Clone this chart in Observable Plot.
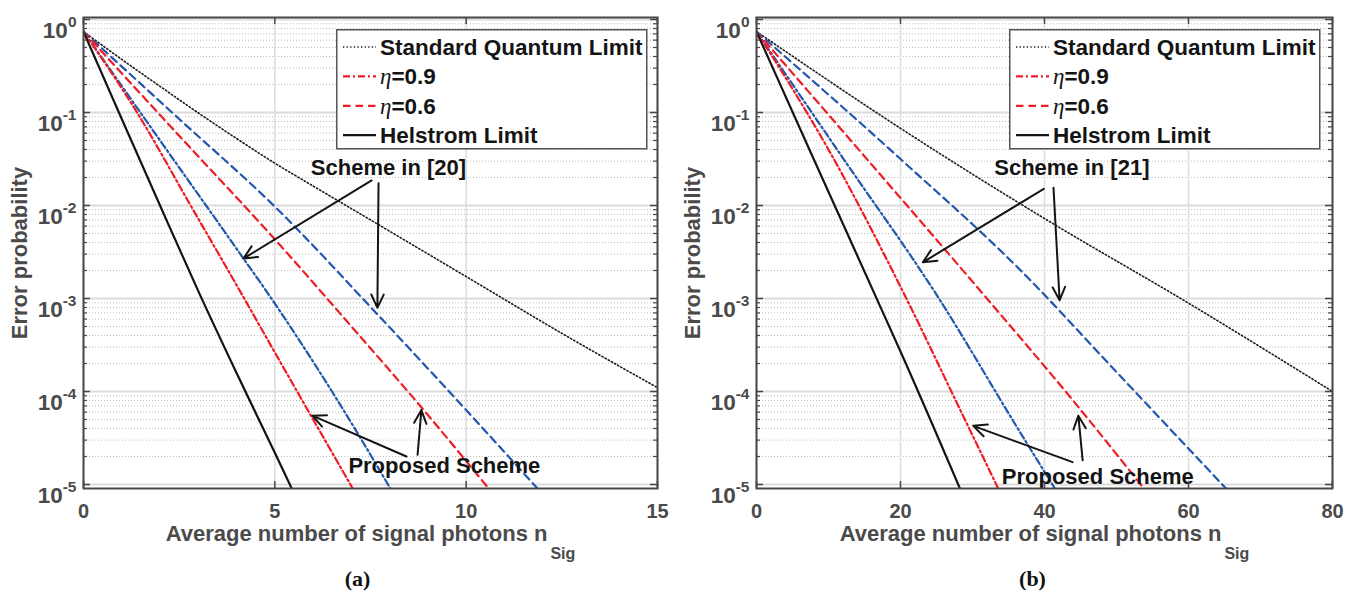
<!DOCTYPE html>
<html><head><meta charset="utf-8">
<script src="https://cdn.jsdelivr.net/npm/d3@7"></script>
<script src="https://cdn.jsdelivr.net/npm/@observablehq/plot@0.6"></script>
<style>
body{margin:0;background:#fff;}
#fig{position:relative;width:1358px;height:597px;overflow:hidden;font-family:"Liberation Sans",Arial,sans-serif;}
.panel{position:absolute;top:0;width:679px;height:597px;}
</style></head><body><div id="fig"></div>
<script>
// ---------- tick values ----------
const yDecades = [1e-5, 1e-4, 1e-3, 1e-2, 1e-1, 1];
const xTicksA = [0, 5, 10, 15];
const xTicksB = [0, 20, 40, 60, 80];

// ---------- legend / labels ----------
const legendLabels = ["Standard Quantum Limit", "η=0.9", "η=0.6", "Helstrom Limit"];
const yTitle = "Error probability";
const xTitle = "Average number of signal photons n";
const xTitleSub = "Sig";

// ---------- panel (a) data: n_Sig, error probability ----------
const a_sql_n = [0, 1, 2, 3, 4, 5, 6, 7.5, 10, 12.5, 15];
const a_sql_p = [0.741, 0.372, 0.191, 0.0989, 0.0525, 0.0285, 0.0162, 0.0070, 0.00172, 4.22e-4, 1.10e-4];
const a_hel_n = [0, 1, 2, 3, 4, 5, 5.6];
const a_hel_p = [0.741, 0.0851, 0.01, 1.20e-3, 1.58e-4, 2.19e-5, 6.6e-6];
const a_p09_n = [0, 1.4, 2.8, 4.2, 5, 6, 7.2];
const a_p09_p = [0.741, 0.1, 0.01, 1e-3, 2.63e-4, 5.01e-5, 6.9e-6];
const a_p06_n = [0, 2.5, 4.97, 7, 8.85, 10.8];
const a_p06_p = [0.741, 0.0562, 4.47e-3, 5.01e-4, 6.61e-5, 7.08e-6];
const a_s09_n = [0, 2, 4.18, 4.76, 6.72, 8.2];
const a_s09_p = [0.741, 0.0501, 2.69e-3, 1.23e-3, 7.08e-5, 6.76e-6];
const a_s06_n = [0, 2.5, 4.97, 7.68, 10, 12.1];
const a_s06_p = [0.741, 0.0851, 0.01, 6.76e-4, 6.31e-5, 7.08e-6];

// ---------- panel (b) data ----------
const b_sql_n = [0, 20, 40, 60, 80];
const b_sql_p = [0.741, 0.0676, 7.24e-3, 8.91e-4, 1.0e-4];
const b_hel_n = [0, 8, 16.8, 20, 28.9];
const b_hel_p = [0.741, 0.0309, 9.55e-4, 2.69e-4, 6.92e-6];
const b_p09_n = [0, 10.3, 20.5, 28, 34.3];
const b_p09_p = [0.741, 0.0363, 1.12e-3, 7.08e-5, 6.92e-6];
const b_p06_n = [0, 16, 32, 44, 54.9];
const b_p06_p = [0.741, 0.0275, 1.0e-3, 7.94e-5, 7.08e-6];
const b_s09_n = [0, 12, 25, 36.7, 42.3];
const b_s09_p = [0.741, 0.0324, 1.10e-3, 3.55e-5, 7.08e-6];
const b_s06_n = [0, 20, 36.7, 50, 66.5];
const b_s06_p = [0.741, 0.0316, 2.0e-3, 1.62e-4, 7.08e-6];

// ---------- annotations ----------
const a_notes = [
  {n: 7.97, p: 0.0251, label: "Scheme in [20]"},
  {n: 9.43, p: 1.58e-5, label: "Proposed Scheme"}
];
const a_arrows = [
  {n1: 7.53, p1: 0.0186, n2: 4.18, p2: 0.00269},
  {n1: 7.71, p1: 0.0174, n2: 7.68, p2: 7.94e-4},
  {n1: 8.44, p1: 2.0e-5, n2: 5.98, p2: 5.5e-5},
  {n1: 8.73, p1: 2.09e-5, n2: 8.83, p2: 6.31e-5}
];
const b_notes = [
  {n: 43.8, p: 0.0251, label: "Scheme in [21]"},
  {n: 47.4, p: 1.22e-5, label: "Proposed Scheme"}
];
const b_arrows = [
  {n1: 39.9, p1: 0.0151, n2: 23.1, p2: 0.00245},
  {n1: 41.25, p1: 0.0155, n2: 42.1, p2: 9.55e-4},
  {n1: 43.9, p1: 1.74e-5, n2: 30.1, p2: 4.27e-5},
  {n1: 45.3, p1: 1.82e-5, n2: 44.7, p2: 5.5e-5}
];

// ---------- styles ----------
const RED = "#ee1c25", BLUE = "#2157ae", BLK = "#141414", GRAY = "#4a4a4a";
const styles = {
  sql: {stroke: "#1a1a1a", dash: "1.3,2.3", width: 1.6},
  p09: {stroke: RED, dash: "7,3,2,3", width: 2.2},
  p06: {stroke: RED, dash: "7.5,5", width: 2.2},
  hel: {stroke: BLK, dash: null, width: 2.2},
  s09: {stroke: BLUE, dash: "7,3,2,3", width: 2.2},
  s06: {stroke: BLUE, dash: "7.5,5", width: 2.2}
};
const legendKeys = ["sql", "p09", "p06", "hel"];

function rows(ns, ps) { return ns.map((n, i) => ({n, p: ps[i]})); }

const W = 679, H = 597, MT = 17, MB = 109;
const minor = yDecades.slice(0, -1).flatMap(d => [2,3,4,5,6,7,8,9].map(k => k * d));
const SVGNS = "http://www.w3.org/2000/svg";

function panel({series, xDomain, xTicks, ml, mr, notes, arrows, caption, capDx}) {
  const fw = W - ml - mr, fh = H - MT - MB;
  const lineMarks = Object.keys(series).map(k => Plot.line(series[k], {
    x: "n", y: "p", stroke: styles[k].stroke, strokeWidth: styles[k].width,
    strokeDasharray: styles[k].dash, curve: "monotone-x", clip: true
  }));
  const plot = Plot.plot({
    width: W, height: H, marginLeft: ml, marginRight: mr, marginTop: MT, marginBottom: MB,
    style: {fontFamily: "'Liberation Sans', Arial, sans-serif", fontWeight: "bold", background: "transparent", overflow: "visible"},
    x: {domain: xDomain},
    y: {type: "log", domain: [Math.pow(10, -5.043), Math.pow(10, 0.0215)]},
    marks: [
      Plot.ruleY(minor, {stroke: "#bdbdbd", strokeWidth: 1, strokeDasharray: "1,2"}),
      Plot.ruleY(yDecades, {stroke: "#dcdcdc", strokeWidth: 1.8}),
      Plot.ruleX(xTicks, {stroke: "#dcdcdc", strokeWidth: 1.5}),
      ...lineMarks,
      Plot.arrow(arrows, {x1: "n1", y1: "p1", x2: "n2", y2: "p2", stroke: BLK, strokeWidth: 2, headLength: 11, headAngle: 50}),
      Plot.text(notes, {x: "n", y: "p", text: "label", fontSize: 22, fontWeight: "bold", fill: BLK}),
      Plot.frame({stroke: "#474747", strokeWidth: 2}),
      Plot.tickY(yDecades, {stroke: "#474747", strokeWidth: 1.5, insetRight: fw - 7}),
      Plot.tickY(yDecades, {stroke: "#474747", strokeWidth: 1.5, insetLeft: fw - 7}),
      Plot.tickY(minor, {stroke: "#474747", strokeWidth: 1.2, insetRight: fw - 4}),
      Plot.tickY(minor, {stroke: "#474747", strokeWidth: 1.2, insetLeft: fw - 4}),
      Plot.tickX(xTicks, {stroke: "#474747", strokeWidth: 1.5, insetTop: fh - 7}),
      Plot.tickX(xTicks, {stroke: "#474747", strokeWidth: 1.5, insetBottom: fh - 7}),
      Plot.axisY({ticks: yDecades, tickFormat: d => "10^" + Math.round(Math.log10(d)), tickSize: 0, tickPadding: 7, fill: GRAY, label: null}),
      Plot.axisX({ticks: xTicks, tickFormat: d => String(d), tickSize: 0, tickPadding: 15, fill: GRAY, label: null}),
      Plot.text([yTitle], {text: d => d, frameAnchor: "left", textAnchor: "middle", lineAnchor: "middle", rotate: -90, dx: -64, fontSize: 22, fontWeight: "bold", fill: GRAY}),
      Plot.text([xTitle], {text: d => d, frameAnchor: "bottom", dy: 52, fontSize: 22, fontWeight: "bold", fill: GRAY}),
      Plot.text([caption], {text: d => d, frameAnchor: "bottom", dx: capDx, dy: 97, fontSize: 22, fontWeight: "bold", fontFamily: "'Liberation Serif', 'Times New Roman', serif", fill: "#111"})
    ]
  });
  // axis font sizes
  plot.querySelectorAll('[aria-label="x-axis tick label"] text').forEach(t => {
    t.setAttribute("font-size", "20"); t.style.fontSize = "20px";
  });
  // superscripts on y tick labels
  plot.querySelectorAll('[aria-label="y-axis tick label"] text').forEach(t => {
    const s = t.textContent;
    const exp = s.split("^")[1];
    t.textContent = "10";
    t.setAttribute("font-size", "22.5"); t.style.fontSize = "22.5px";
    t.setAttribute("dy", "0.5em");
    const ts = document.createElementNS(SVGNS, "tspan");
    ts.setAttribute("dy", "-11");
    ts.setAttribute("font-size", "15.5");
    ts.style.fontSize = "15.5px";
    ts.textContent = exp;
    t.appendChild(ts);
  });
  // subscript on x title
  plot.querySelectorAll("text").forEach(t => {
    if (t.textContent === xTitle) {
      const ts = document.createElementNS(SVGNS, "tspan");
      ts.setAttribute("dy", "18");
      ts.setAttribute("dx", "3");
      ts.setAttribute("font-size", "16");
      ts.textContent = xTitleSub;
      t.appendChild(ts);
    }
  });
  return plot;
}

function legend(left) {
  const svg = d3.create("svg").attr("width", 312).attr("height", 121)
    .style("position", "absolute").style("left", left + "px").style("top", "29px");
  svg.append("rect").attr("x", 0.75).attr("y", 0.75).attr("width", 310).attr("height", 119)
    .attr("fill", "#fff").attr("stroke", "#555").attr("stroke-width", 1.5);
  legendKeys.forEach((k, i) => {
    const cy = 18 + i * 29.4;
    const st = styles[k];
    svg.append("line").attr("x1", 7).attr("x2", 40).attr("y1", cy).attr("y2", cy)
      .attr("stroke", st.stroke).attr("stroke-width", st.width)
      .attr("stroke-dasharray", st.dash);
    const t = svg.append("text").attr("x", 44).attr("y", cy + 8)
      .attr("font-family", "'Liberation Sans', Arial, sans-serif").attr("font-weight", "bold")
      .attr("font-size", 22.5).attr("fill", BLK);
    const lab = legendLabels[i];
    if (lab.startsWith("η")) {
      t.append("tspan").attr("font-family", "'Liberation Serif', 'Times New Roman', serif")
        .attr("font-style", "italic").attr("font-weight", "normal").attr("font-size", 23).text("η");
      t.append("tspan").text(lab.slice(1));
    } else {
      t.text(lab);
    }
  });
  return svg.node();
}

const fig = document.getElementById("fig");
const pa = document.createElement("div"); pa.className = "panel"; pa.style.left = "0px";
const pb = document.createElement("div"); pb.className = "panel"; pb.style.left = "679px";
fig.appendChild(pa); fig.appendChild(pb);

pa.appendChild(panel({
  series: {
    sql: rows(a_sql_n, a_sql_p), s06: rows(a_s06_n, a_s06_p), p06: rows(a_p06_n, a_p06_p),
    s09: rows(a_s09_n, a_s09_p), p09: rows(a_p09_n, a_p09_p), hel: rows(a_hel_n, a_hel_p)
  },
  xDomain: [0, 15], xTicks: xTicksA, ml: 83, mr: 22, notes: a_notes, arrows: a_arrows,
  caption: "(a)", capDx: -13
}));
pa.appendChild(legend(336));

pb.appendChild(panel({
  series: {
    sql: rows(b_sql_n, b_sql_p), s06: rows(b_s06_n, b_s06_p), p06: rows(b_p06_n, b_p06_p),
    s09: rows(b_s09_n, b_s09_p), p09: rows(b_p09_n, b_p09_p), hel: rows(b_hel_n, b_hel_p)
  },
  xDomain: [0, 80], xTicks: xTicksB, ml: 77, mr: 26, notes: b_notes, arrows: b_arrows,
  caption: "(b)", capDx: -12
}));
pb.appendChild(legend(330));
</script></body></html>
